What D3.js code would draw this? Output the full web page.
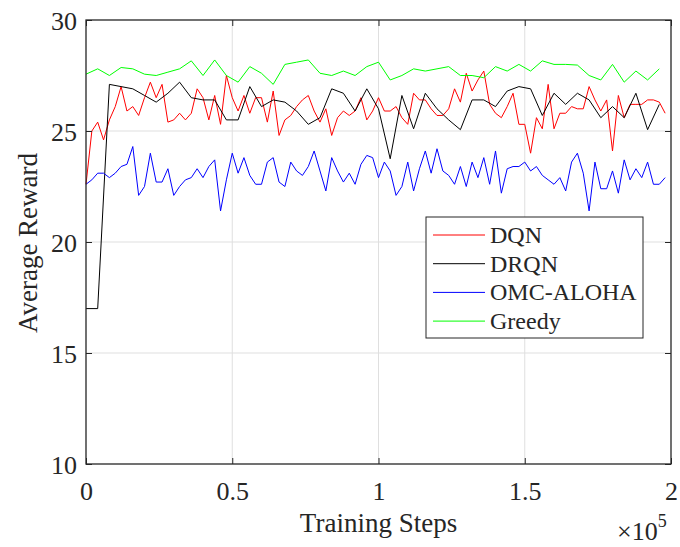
<!DOCTYPE html>
<html>
<head>
<meta charset="utf-8">
<script src="https://cdn.jsdelivr.net/npm/d3@7"></script>
<style>
  body { margin: 0; background: #fff; }
  text { font-family: "Liberation Serif", "Times New Roman", serif; fill: #262626; }
</style>
</head>
<body>
<div id="chart"></div>
<script>
// reward curves
var dqn = [22.6, 25.0, 25.4, 24.6, 25.5, 26.1, 27.0, 25.9, 26.1, 25.7,
  26.5, 27.2, 26.5, 27.1, 25.4, 25.5, 25.8, 25.5, 25.8, 26.9,
  26.5, 25.5, 26.6, 25.3, 27.5, 26.5, 25.9, 26.6, 25.8, 26.5,
  26.5, 25.4, 26.8, 24.8, 25.5, 25.7, 26.1, 26.4, 26.6, 25.9,
  25.4, 26.0, 24.8, 25.6, 25.9, 25.7, 25.9, 26.5, 25.5, 25.9,
  26.5, 25.9, 25.9, 26.1, 25.6, 25.3, 26.7, 26.4, 26.4, 26.0,
  25.7, 25.7, 26.0, 26.9, 26.3, 27.6, 26.8, 27.3, 27.7, 26.2,
  25.8, 25.6, 26.1, 26.7, 25.3, 25.3, 24.0, 25.6, 25.1, 27.1,
  25.1, 25.8, 25.8, 26.1, 26.0, 26.0, 27.0, 26.4, 25.9, 26.4,
  24.1, 26.6, 25.6, 26.2, 26.2, 26.2, 26.4, 26.4, 26.3, 25.8];

var omc = [22.6, 22.8, 23.1, 23.1, 22.9, 23.1, 23.4, 23.5, 24.3, 22.1,
  22.5, 24.0, 22.7, 22.7, 23.3, 22.1, 22.5, 22.8, 22.9, 23.3,
  22.9, 23.4, 23.7, 21.4, 22.8, 24.0, 23.1, 23.8, 23.0, 22.6,
  22.6, 23.6, 23.8, 22.7, 22.5, 23.6, 23.2, 23.0, 23.4, 24.1,
  23.2, 22.3, 23.8, 23.2, 22.7, 23.1, 22.6, 23.5, 23.9, 23.8,
  22.9, 23.6, 23.2, 22.1, 22.5, 23.6, 22.3, 23.3, 24.1, 23.1,
  24.2, 23.2, 23.0, 22.6, 23.4, 22.5, 23.6, 22.9, 23.8, 22.6,
  24.1, 22.2, 23.3, 23.4, 23.4, 23.6, 23.2, 23.4, 23.0, 22.8,
  22.6, 22.9, 22.3, 23.6, 24.0, 23.1, 21.4, 23.6, 22.4, 22.4,
  23.2, 22.2, 23.7, 22.8, 23.3, 22.9, 23.6, 22.6, 22.6, 22.9];

var drqn = [17.0, 17.0, 27.1, 27.0, 26.9, 26.6, 26.3, 26.7, 27.2, 26.5,
  26.4, 26.4, 25.5, 25.5, 27.0, 26.1, 26.4, 26.3, 25.9, 25.3,
  25.6, 26.9, 26.7, 25.9, 26.9, 26.0, 23.75, 26.6, 25.1, 26.7,
  26.0, 25.5, 25.06, 26.4, 26.4, 26.1, 26.8, 27.0, 26.9, 25.7,
  26.7, 26.2, 26.7, 26.4, 25.6, 26.1, 25.6, 26.7, 25.06, 26.2];

var greedy = [27.56, 27.8, 27.5, 27.86, 27.8, 27.56, 27.5, 27.65, 27.8, 28.16,
  27.5, 28.2, 27.5, 27.2, 27.9, 27.6, 27.1, 28.0, 28.1, 28.2,
  27.6, 27.5, 27.7, 27.5, 27.9, 28.1, 27.3, 27.5, 27.8, 27.7,
  27.8, 27.9, 27.5, 27.5, 27.4, 27.9, 27.7, 28.0, 27.7, 28.16,
  28.0, 28.0, 27.97, 27.5, 27.3, 28.0, 27.2, 27.7, 27.3, 27.8];

var xTicks = [0, 50000, 100000, 150000, 200000];
var xTickLabels = ["0", "0.5", "1", "1.5", "2"];
var yTicks = [10, 15, 20, 25, 30];
var legendNames = ["DQN", "DRQN", "OMC-ALOHA", "Greedy"];

var W = 680, H = 547;
var pl = 86, pr = 671, pt = 20, pb = 464;

var svg = d3.select("#chart").append("svg")
  .attr("width", W).attr("height", H);

var x = d3.scaleLinear().domain([0, 200000]).range([pl, pr]);
var y = d3.scaleLinear().domain([10, 30]).range([pb, pt]);

// grid
var grid = svg.append("g").attr("stroke", "#dfdfdf").attr("stroke-width", 1);
xTicks.slice(1, -1).forEach(function(t) {
  grid.append("line").attr("x1", x(t)).attr("x2", x(t)).attr("y1", pt).attr("y2", pb);
});
yTicks.slice(1, -1).forEach(function(t) {
  grid.append("line").attr("x1", pl).attr("x2", pr).attr("y1", y(t)).attr("y2", y(t));
});

// series
var series = [
  {name: "DQN", data: dqn, step: 2000, color: "#ff0000"},
  {name: "DRQN", data: drqn, step: 4000, color: "#000000"},
  {name: "OMC-ALOHA", data: omc, step: 2000, color: "#0000ff"},
  {name: "Greedy", data: greedy, step: 4000, color: "#00ff00"}
];

var line = d3.line()
  .x(function(d) { return x(d[0]); })
  .y(function(d) { return y(d[1]); });

series.forEach(function(s) {
  var pts = s.data.map(function(v, i) { return [i * s.step, v]; });
  svg.append("path")
    .datum(pts)
    .attr("d", line)
    .attr("fill", "none")
    .attr("stroke", s.color)
    .attr("stroke-width", 1);
});

// axes (inward ticks, box on)
var tl = 6;
svg.append("g").attr("transform", "translate(0," + pb + ")")
  .call(d3.axisBottom(x).tickValues(xTicks).tickSizeInner(-tl).tickSizeOuter(0)
    .tickFormat(function(d, i) { return xTickLabels[i]; }))
  .call(function(g) {
    g.select(".domain").remove();
    g.selectAll("line").attr("stroke", "#262626");
    g.selectAll("text").attr("font-size", 26).attr("y", 36).attr("dy", 0)
      .attr("fill", "#262626").style("font-family", "Liberation Serif");
  });
svg.append("g").attr("transform", "translate(0," + pt + ")")
  .call(d3.axisTop(x).tickValues(xTicks).tickSizeInner(-tl).tickSizeOuter(0).tickFormat(""))
  .call(function(g) { g.select(".domain").remove(); g.selectAll("line").attr("stroke", "#262626"); });
svg.append("g").attr("transform", "translate(" + pl + ",0)")
  .call(d3.axisLeft(y).tickValues(yTicks).tickSizeInner(-tl).tickSizeOuter(0))
  .call(function(g) {
    g.select(".domain").remove();
    g.selectAll("line").attr("stroke", "#262626");
    g.selectAll("text").attr("font-size", 26).attr("x", -9).attr("dy", "0.35em")
      .attr("fill", "#262626").style("font-family", "Liberation Serif");
  });
svg.append("g").attr("transform", "translate(" + pr + ",0)")
  .call(d3.axisRight(y).tickValues(yTicks).tickSizeInner(-tl).tickSizeOuter(0).tickFormat(""))
  .call(function(g) { g.select(".domain").remove(); g.selectAll("line").attr("stroke", "#262626"); });

svg.append("rect")
  .attr("x", pl).attr("y", pt)
  .attr("width", pr - pl).attr("height", pb - pt)
  .attr("fill", "none").attr("stroke", "#262626").attr("stroke-width", 1.3);

// axis labels
svg.append("text")
  .attr("x", (pl + pr) / 2).attr("y", 532)
  .attr("text-anchor", "middle").attr("font-size", 27)
  .text("Training Steps");

var exp = svg.append("text").attr("x", 617).attr("y", 540).attr("font-size", 26);
exp.append("tspan").text("\u00d710");
exp.append("tspan").attr("font-size", 18).attr("dy", -13).text("5");

svg.append("text")
  .attr("transform", "translate(37,243) rotate(-90)")
  .attr("text-anchor", "middle").attr("font-size", 27)
  .text("Average Reward");

// legend
var lg = svg.append("g");
lg.append("rect")
  .attr("x", 426).attr("y", 217).attr("width", 217).attr("height", 121)
  .attr("fill", "#fff").attr("stroke", "#262626").attr("stroke-width", 1);
series.forEach(function(s, i) {
  var ly = 235 + i * 28.7;
  lg.append("line")
    .attr("x1", 433).attr("x2", 485).attr("y1", ly).attr("y2", ly)
    .attr("stroke", s.color).attr("stroke-width", 1);
  lg.append("text")
    .attr("x", 490).attr("y", ly).attr("dy", "0.33em")
    .attr("font-size", 24).attr("fill", "#000")
    .text(legendNames[i]);
});
</script>
</body>
</html>
